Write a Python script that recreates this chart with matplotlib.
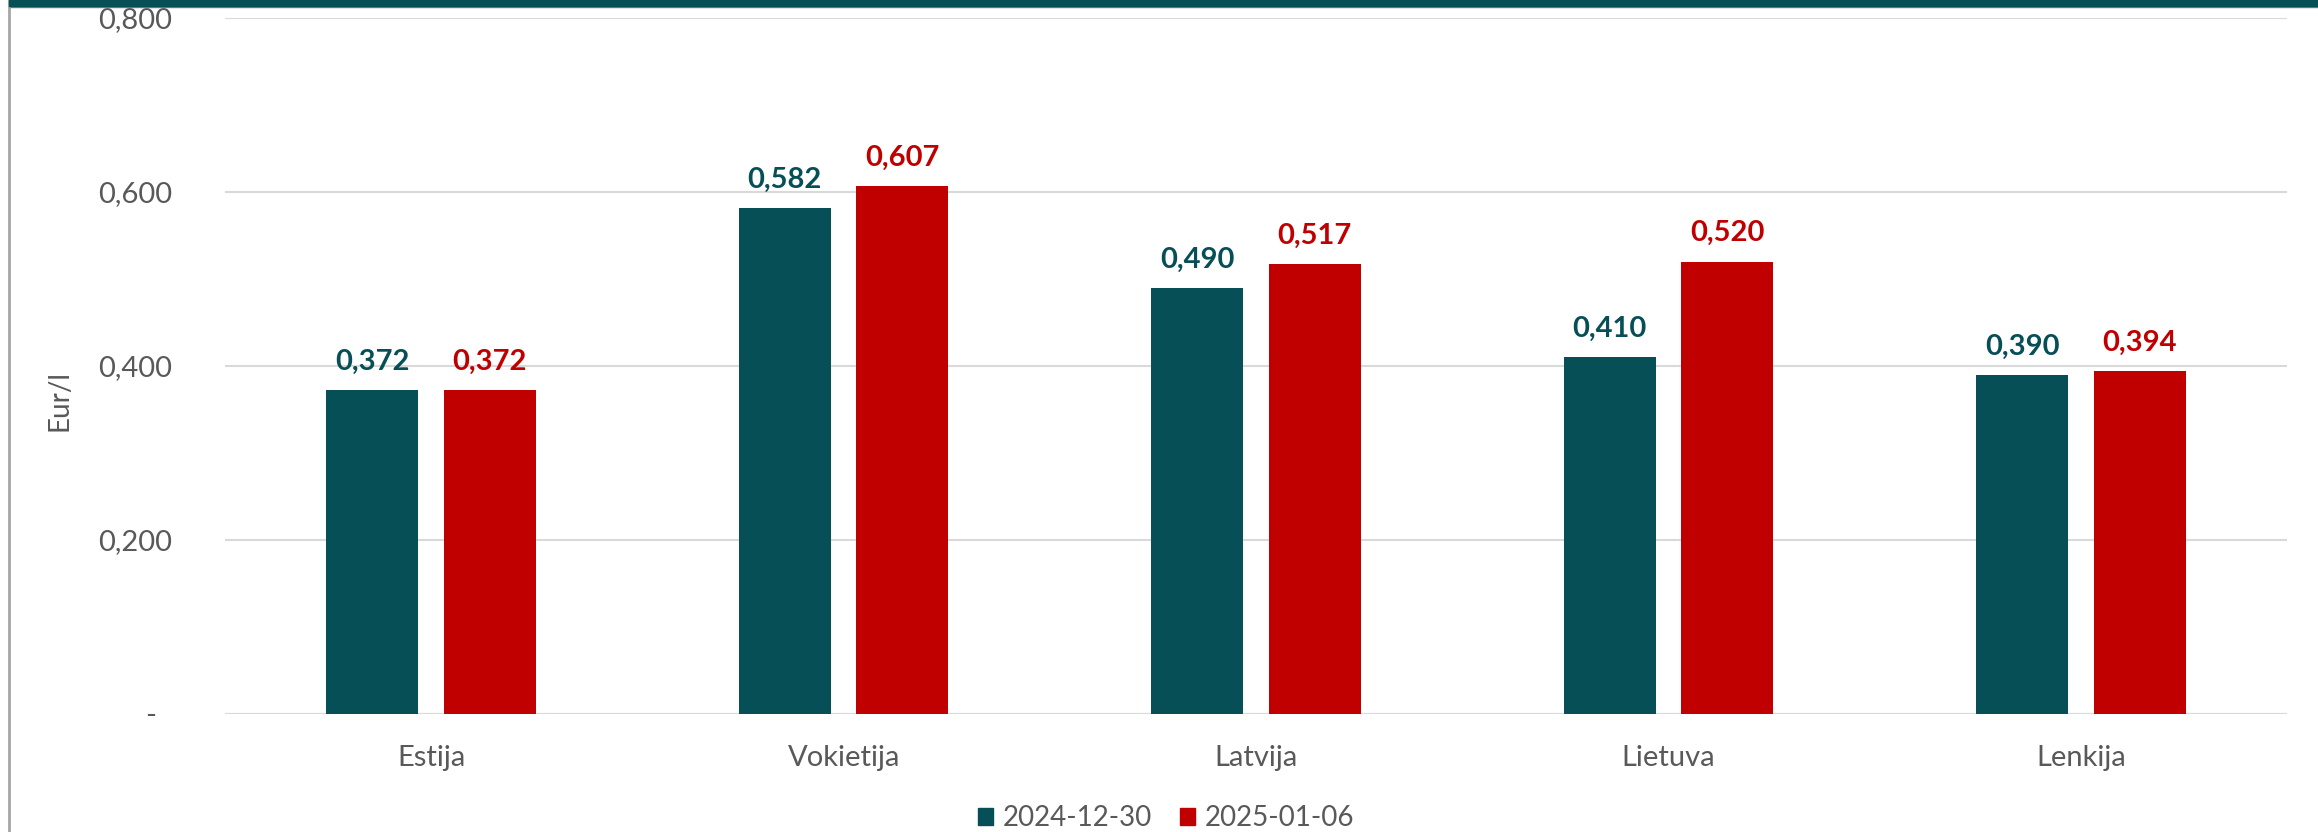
import matplotlib.pyplot as plt
import numpy as np
from matplotlib.patches import Rectangle
from matplotlib.lines import Line2D

plt.rcParams['font.family'] = ['Lato', 'DejaVu Sans']

countries = ['Estija', 'Vokietija', 'Latvija', 'Lietuva', 'Lenkija']
prev_week = [0.372, 0.582, 0.490, 0.410, 0.390]
this_week = [0.372, 0.607, 0.517, 0.520, 0.394]
series_names = ['2024-12-30', '2025-01-06']
yticks = [0, 0.2, 0.4, 0.6, 0.8]

teal = '#074F57'
red = '#C00000'
grey_txt = '#595959'

fig = plt.figure(figsize=(23.18, 8.32), dpi=100)
ax = fig.add_axes([225/2318, 1-714/832, (2287-225)/2318, (714-18)/832])

x = np.arange(len(countries))
w = 0.223
off = 0.1425
b1 = ax.bar(x - off, prev_week, w, color=teal, zorder=3)
b2 = ax.bar(x + off, this_week, w, color=red, zorder=3)

for bars, vals, c in [(b1, prev_week, teal), (b2, this_week, red)]:
    for r, v in zip(bars, vals):
        ax.annotate(f'{v:.3f}'.replace('.', ','), (r.get_x() + r.get_width()/2, v),
                    xytext=(0, 11), textcoords='offset points', ha='center', va='bottom',
                    fontsize=21, fontweight='bold', color=c)

ax.set_xlim(-0.5, len(countries) - 0.5)
ax.set_ylim(0, 0.8)
ax.set_yticks(yticks)
ax.set_yticklabels(['-  '] + [f'{t:.3f}'.replace('.', ',') for t in yticks[1:]])
ax.set_xticks(x)
ax.set_xticklabels(countries)
ax.tick_params(axis='y', length=0, pad=38, labelsize=21, labelcolor=grey_txt)
ax.tick_params(axis='x', length=0, pad=22, labelsize=21, labelcolor=grey_txt)
ax.grid(axis='y', color='#D9D9D9', lw=1.5, zorder=0)
for s in ax.spines.values():
    s.set_visible(False)
ax.axhline(0, color='#D9D9D9', lw=1.5, zorder=1)

fig.text(59/2318, 1-400/832, 'Eur/l', rotation=90, ha='center', va='center',
         fontsize=20, color=grey_txt)

# frame decorations
fig.patches.append(Rectangle((9/2318, 1-6/832), 1, 6/832, transform=fig.transFigure,
                             color=teal, zorder=5))
fig.lines.append(Line2D([9/2318, 1], [1-6.5/832, 1-6.5/832], transform=fig.transFigure,
                        color='#7F7F7F', lw=1))
fig.lines.append(Line2D([8.5/2318, 8.5/2318], [0, 1], transform=fig.transFigure,
                        color='#A6A6A6', lw=2))

handles = [Rectangle((0, 0), 1, 1, color=teal), Rectangle((0, 0), 1, 1, color=red)]
fig.legend(handles, series_names, loc='center', bbox_to_anchor=(1166/2318, 1-818/832),
           ncol=2, frameon=False, fontsize=20, labelcolor=grey_txt,
           handlelength=0.55, handleheight=0.55, handletextpad=0.35, columnspacing=1.0)

fig.savefig('out.png', dpi=100)
